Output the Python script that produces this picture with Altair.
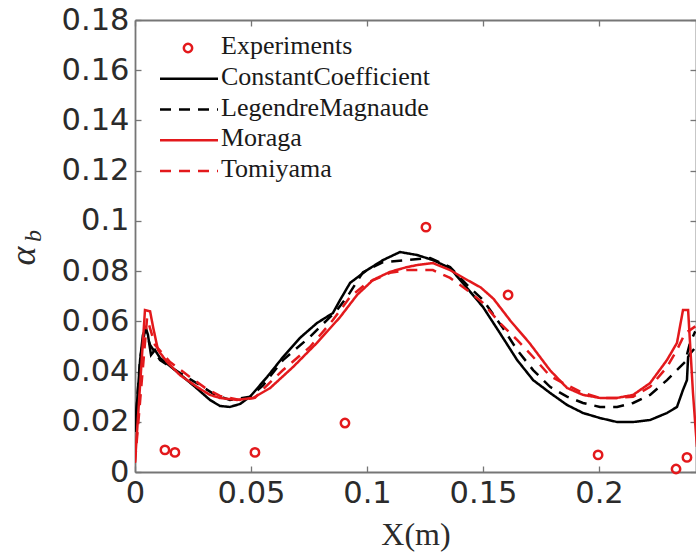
import altair as alt
import pandas as pd

RED = "#e3191c"
BLACK = "#000000"
AXIS_GRAY = "#767676"
TEXT_GRAY = "#2b2b2b"

# ---------------- data ----------------
models = ["ConstantCoefficient", "LegendreMagnaude", "Moraga", "Tomiyama"]
model_colors = [BLACK, BLACK, RED, RED]
model_dashes = [[1, 0], [11, 8], [1, 0], [11, 8]]
legend_names = ["Experiments"] + models
legend_rows = [0, 1, 2, 3, 4]

x_ticks = [0, 0.05, 0.1, 0.15, 0.2]
y_ticks = [0, 0.02, 0.04, 0.06, 0.08, 0.1, 0.12, 0.14, 0.16, 0.18]

exp_x = [0.0129, 0.0172, 0.0517, 0.0905, 0.1254, 0.1608, 0.1996, 0.2332, 0.2379]
exp_y = [0.0088, 0.0078, 0.0078, 0.0195, 0.0975, 0.0705, 0.0068, 0.0012, 0.0058]

cc_x = [0, 0.0022, 0.0034, 0.0047, 0.0056, 0.0069, 0.0086, 0.0108, 0.0172, 0.0259,
        0.0323, 0.0366, 0.0409, 0.0453, 0.0496, 0.0569, 0.0638, 0.0711, 0.0784, 0.0853,
        0.0884, 0.0927, 0.1000, 0.1069, 0.1142, 0.1216, 0.1284, 0.1358, 0.1431, 0.1500,
        0.1573, 0.1647, 0.1716, 0.1789, 0.1862, 0.1931, 0.2004, 0.2078, 0.2147, 0.2220,
        0.2293, 0.2336, 0.2362, 0.2379, 0.2384, 0.2392, 0.2410]
cc_y = [0.016, 0.0446, 0.0545, 0.0573, 0.0545, 0.0466, 0.0486, 0.0454, 0.0406, 0.0339,
        0.0287, 0.0263, 0.0259, 0.0271, 0.0300, 0.0378, 0.0458, 0.0534, 0.0593, 0.0633,
        0.0685, 0.0753, 0.0804, 0.0844, 0.0876, 0.0864, 0.0844, 0.0812, 0.0733, 0.0657,
        0.0553, 0.0446, 0.0366, 0.0315, 0.0267, 0.0235, 0.0215, 0.0199, 0.0199, 0.0207,
        0.0235, 0.0259, 0.0327, 0.0366, 0.0458, 0.0470, 0.0490]

ld_x = [0, 0.0022, 0.0043, 0.0065, 0.0108, 0.0194, 0.0280, 0.0345, 0.0409, 0.0496,
        0.0552, 0.0638, 0.0754, 0.0871, 0.0914, 0.0983, 0.1069, 0.1172, 0.1272, 0.1358,
        0.1431, 0.1500, 0.1586, 0.1647, 0.1716, 0.1789, 0.1862, 0.1931, 0.2004, 0.2078,
        0.2147, 0.2220, 0.2293, 0.2336, 0.2371, 0.2392, 0.2415]
ld_y = [0.016, 0.0450, 0.0565, 0.0506, 0.0446, 0.0394, 0.0346, 0.0307, 0.0287, 0.0300,
        0.0345, 0.0446, 0.0538, 0.0645, 0.0697, 0.0796, 0.0836, 0.0844, 0.0852, 0.0816,
        0.0745, 0.0685, 0.0573, 0.0486, 0.0406, 0.0339, 0.0300, 0.0275, 0.0259, 0.0259,
        0.0275, 0.0307, 0.0366, 0.0406, 0.0438, 0.0514, 0.0560]

mo_x = [0, 0.0043, 0.0065, 0.0078, 0.0099, 0.0138, 0.0194, 0.0267, 0.0323, 0.0366,
        0.0440, 0.0509, 0.0582, 0.0681, 0.0784, 0.0884, 0.0957, 0.1026, 0.1099, 0.1172,
        0.1216, 0.1284, 0.1358, 0.1431, 0.1490, 0.1545, 0.1620, 0.1700, 0.1789, 0.1862,
        0.1931, 0.2004, 0.2078, 0.2147, 0.2220, 0.2293, 0.2336, 0.2362, 0.2384, 0.2405,
        0.2422]
mo_y = [0.0036, 0.0645, 0.0640, 0.0577, 0.0486, 0.0438, 0.0386, 0.0339, 0.0307, 0.0295,
        0.0287, 0.0295, 0.0334, 0.0418, 0.0514, 0.0617, 0.0705, 0.0765, 0.0797, 0.0816,
        0.0824, 0.0832, 0.0804, 0.0765, 0.0735, 0.0690, 0.0600, 0.0514, 0.0405, 0.0335,
        0.0307, 0.0295, 0.0295, 0.0307, 0.0354, 0.0446, 0.0514, 0.0645, 0.0645, 0.0315,
        0.0100]

to_x = [0, 0.0052, 0.0086, 0.0151, 0.0237, 0.0302, 0.0366, 0.0453, 0.0517, 0.0552,
        0.0638, 0.0754, 0.0853, 0.0927, 0.1000, 0.1099, 0.1172, 0.1216, 0.1284, 0.1358,
        0.1431, 0.1500, 0.1573, 0.1647, 0.1716, 0.1789, 0.1862, 0.1931, 0.2004, 0.2078,
        0.2147, 0.2220, 0.2293, 0.2336, 0.2371, 0.2392, 0.2415]
to_y = [0.0040, 0.0613, 0.0506, 0.0438, 0.0378, 0.0335, 0.0303, 0.0287, 0.0295, 0.0330,
        0.0406, 0.0498, 0.0605, 0.0697, 0.0753, 0.0793, 0.0804, 0.0804, 0.0804, 0.0773,
        0.0725, 0.0673, 0.0593, 0.0526, 0.0458, 0.0382, 0.0346, 0.0315, 0.0295, 0.0295,
        0.0300, 0.0339, 0.0418, 0.0486, 0.0553, 0.0565, 0.0580]

# ---------------- tables ----------------
series = {
    "ConstantCoefficient": (cc_x, cc_y),
    "LegendreMagnaude": (ld_x, ld_y),
    "Moraga": (mo_x, mo_y),
    "Tomiyama": (to_x, to_y),
}
rows = []
for name in models:
    xs, ys = series[name]
    for a, b in zip(xs, ys):
        rows.append({"model": name, "x": a, "y": b})
lines_df = pd.DataFrame(rows)
exp_df = pd.DataFrame({"x": exp_x, "y": exp_y})
leg_all_df = pd.DataFrame({"model": legend_names, "row": legend_rows})
leg_lines_df = leg_all_df[leg_all_df["model"] != "Experiments"]
leg_exp_df = leg_all_df[leg_all_df["model"] == "Experiments"]

X_MAX = 0.2418
xscale = alt.Scale(domain=[0, X_MAX], nice=False, zero=False)
yscale = alt.Scale(domain=[0, 0.18], nice=False, zero=False)
color_scale = alt.Scale(domain=models, range=model_colors)
dash_scale = alt.Scale(domain=models, range=model_dashes)
TICK = alt.ExprRef(expr="-6")

common_axis = dict(
    grid=False,
    labelFont="DejaVu Sans",
    labelFontSize=30.5,
    labelColor=TEXT_GRAY,
    tickColor=AXIS_GRAY,
    tickWidth=1.3,
    tickSize=TICK,
    domainColor=AXIS_GRAY,
    domainWidth=1.8,
    format="~g",
    labelFlush=False,
    labelOverlap=False,
)

x_axis = alt.Axis(
    values=x_ticks, orient="bottom", labelPadding=12, title="X(m)",
    titleFont="Liberation Serif", titleFontSize=32, titleFontWeight="normal",
    titleColor=TEXT_GRAY, titlePadding=11, **common_axis)
y_axis = alt.Axis(values=y_ticks, orient="left", labelPadding=12, title=None, **common_axis)

x_axis_top = alt.Axis(values=x_ticks, orient="top", labels=False, title=None,
                      grid=False, tickColor=AXIS_GRAY, tickWidth=1.3, tickSize=TICK,
                      domainColor=AXIS_GRAY, domainWidth=1.8)
y_axis_right = alt.Axis(values=y_ticks, orient="right", labels=False, title=None,
                        grid=False, tickColor=AXIS_GRAY, tickWidth=1.3, tickSize=TICK,
                        domainColor=AXIS_GRAY, domainWidth=1.8)

lines = alt.Chart(lines_df).mark_line(strokeWidth=2.5, clip=True).encode(
    x=alt.X("x:Q", scale=xscale, axis=x_axis),
    y=alt.Y("y:Q", scale=yscale, axis=y_axis),
    color=alt.Color("model:N", scale=color_scale, legend=None),
    strokeDash=alt.StrokeDash("model:N", scale=dash_scale, legend=None),
    order=alt.Order("x:Q"),
)

points = alt.Chart(exp_df).mark_point(
    shape="circle", filled=False, color=RED, strokeWidth=2.5, size=70, opacity=1
).encode(
    x=alt.X("x:Q", scale=xscale, axis=x_axis_top),
    y=alt.Y("y:Q", scale=yscale, axis=y_axis_right),
)

main = alt.layer(lines, points).resolve_axis(x="independent", y="independent")

# ---------------- legend (inside the plot, top left) ----------------
leg_y = alt.Y("row:Q", scale=alt.Scale(domain=[0, 4], range=[28, 151], nice=False, zero=False),
              axis=None)
leg_rules = alt.Chart(leg_lines_df).mark_rule(strokeWidth=2.5).encode(
    x=alt.value(25), x2=alt.value(83), y=leg_y,
    color=alt.Color("model:N", scale=color_scale, legend=None),
    strokeDash=alt.StrokeDash("model:N", scale=dash_scale, legend=None),
)
leg_point = alt.Chart(leg_exp_df).mark_point(
    shape="circle", filled=False, color=RED, strokeWidth=2.5, size=70, opacity=1
).encode(x=alt.value(53), y=leg_y)
leg_text = alt.Chart(leg_all_df).mark_text(
    align="left", baseline="middle", font="Liberation Serif", fontSize=26, color="#1a1a1a",
    dy=-2
).encode(x=alt.value(86), y=leg_y, text="model:N")
legend = alt.layer(leg_rules, leg_point, leg_text)

# ---------------- y title: alpha_b ----------------
alpha = alt.Chart(pd.DataFrame({"t": ["α"]})).mark_text(
    angle=270, font="Liberation Serif", fontStyle="italic", fontSize=36,
    color=TEXT_GRAY, baseline="middle", align="center"
).encode(x=alt.value(-111), y=alt.value(236), text="t:N")
sub_b = alt.Chart(pd.DataFrame({"t": ["b"]})).mark_text(
    angle=270, font="Liberation Serif", fontStyle="italic", fontSize=24,
    color=TEXT_GRAY, baseline="middle", align="center"
).encode(x=alt.value(-101), y=alt.value(216), text="t:N")

chart = alt.layer(main, legend, alpha, sub_b).resolve_scale(y="independent").properties(
    width=561, height=452,
    autosize=alt.AutoSizeParams(type="none"),
    padding={"left": 135, "top": 20, "right": 0, "bottom": 84},
    background="white",
).configure_view(stroke=None)

chart.save("out.html", embed_options={"renderer": "svg", "actions": False})
